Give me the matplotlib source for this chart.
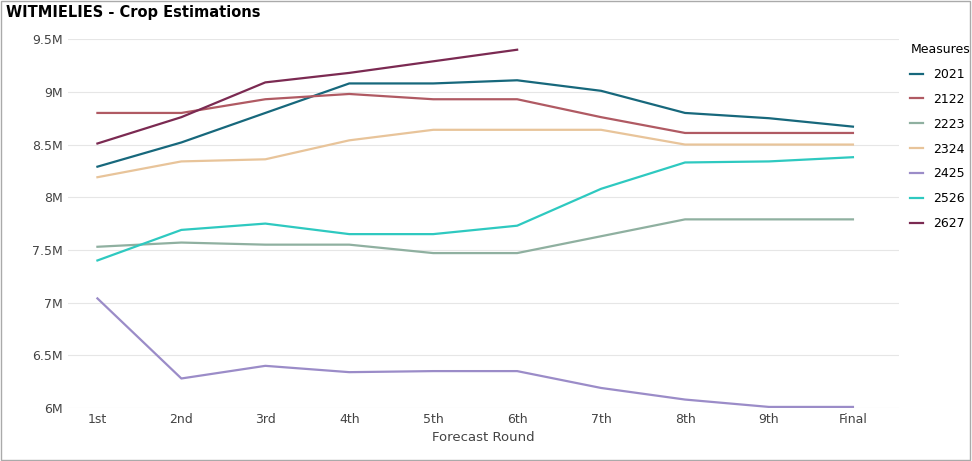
import matplotlib
matplotlib.use("Agg")
import matplotlib.pyplot as plt
from matplotlib.ticker import FuncFormatter

rounds = ["1st", "2nd", "3rd", "4th", "5th", "6th", "7th", "8th", "9th", "Final"]
s2021 = [8.29, 8.52, 8.80, 9.08, 9.08, 9.11, 9.01, 8.80, 8.75, 8.67]
s2122 = [8.80, 8.80, 8.93, 8.98, 8.93, 8.93, 8.76, 8.61, 8.61, 8.61]
s2223 = [7.53, 7.57, 7.55, 7.55, 7.47, 7.47, 7.63, 7.79, 7.79, 7.79]
s2324 = [8.19, 8.34, 8.36, 8.54, 8.64, 8.64, 8.64, 8.50, 8.50, 8.50]
s2425 = [7.04, 6.28, 6.40, 6.34, 6.35, 6.35, 6.19, 6.08, 6.01, 6.01]
s2526 = [7.40, 7.69, 7.75, 7.65, 7.65, 7.73, 8.08, 8.33, 8.34, 8.38]
s2627 = [8.51, 8.76, 9.09, 9.18, 9.29, 9.40]

series = [
    ("2021", s2021, "#17687c"),
    ("2122", s2122, "#b05a63"),
    ("2223", s2223, "#8fb0a0"),
    ("2324", s2324, "#e8c49a"),
    ("2425", s2425, "#9b8cc8"),
    ("2526", s2526, "#2ec9c0"),
    ("2627", s2627, "#7b2a52"),
]

fig = plt.figure(figsize=(9.72, 4.61), dpi=100)
ax = fig.add_axes([0.07, 0.115, 0.855, 0.80])
x = list(range(len(rounds)))
for name, vals, col in series:
    ax.plot(x[:len(vals)], vals, color=col, lw=1.6, label=name)

ax.set_xlim(-0.35, len(rounds) - 1 + 0.55)
ax.set_ylim(6.0, 9.5)
ax.set_yticks([6, 6.5, 7, 7.5, 8, 8.5, 9, 9.5])
ax.yaxis.set_major_formatter(FuncFormatter(lambda v, p: f"{v:g}M"))
ax.set_xticks(x)
ax.set_xticklabels(rounds)
ax.grid(axis="y", color="#e6e6e6", lw=0.8)
for s in ax.spines.values():
    s.set_visible(False)
ax.tick_params(length=0, labelsize=9, colors="#444444")
ax.set_xlabel("Forecast Round", fontsize=9.5, color="#444444")

leg = ax.legend(title="Measures", loc="upper left", bbox_to_anchor=(1.0, 1.02),
                frameon=False, fontsize=9, title_fontsize=9, handlelength=1.0,
                labelspacing=0.95)
leg._legend_box.align = "left"

fig.text(0.006, 0.972, "WITMIELIES - Crop Estimations", fontsize=10.5,
         fontweight="bold", va="center")
fig.patches.append(plt.Rectangle((0.001, 0.002), 0.997, 0.996, transform=fig.transFigure,
                                 fill=False, edgecolor="#aaaaaa", lw=1))
fig.savefig("out.png", dpi=100)
